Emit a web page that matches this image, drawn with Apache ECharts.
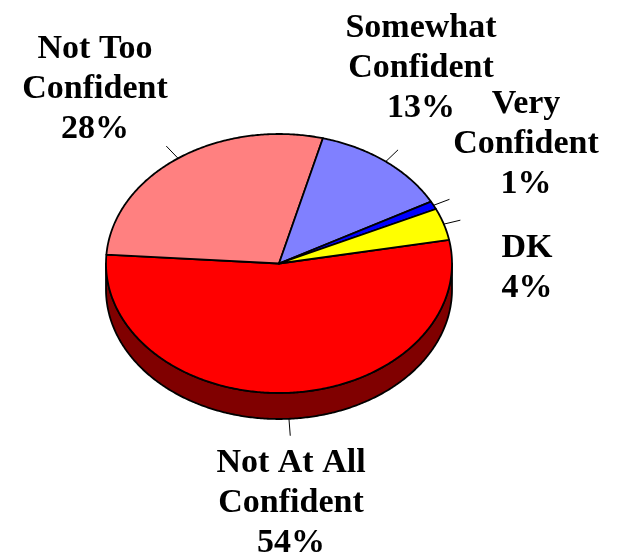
<!DOCTYPE html>
<html>
<head>
<meta charset="utf-8">
<script src="https://cdn.jsdelivr.net/npm/echarts@6/dist/echarts.min.js"></script>
<style>html,body{margin:0;padding:0;background:#fff;}#chart{width:618px;height:557px;}</style>
</head>
<body>
<div id="chart"></div>
<script>
// ---- data ----
const categories = ["Not At All Confident", "Not Too Confident", "Somewhat Confident", "Very Confident", "DK"];
const labelLines = [["Not At All", "Confident"], ["Not Too", "Confident"], ["Somewhat", "Confident"], ["Very", "Confident"], ["DK"]];
const values = [54, 28, 13, 1, 4];

// ---- styles ----
const topColors = ["#FF0000", "#FF8080", "#8080FF", "#0000FF", "#FFFF00"];
const sideColors = ["#800000", "#804040", "#404080", "#000080", "#808000"];
const labelPos = [[291, 443], [95, 29], [421, 8], [526, 84], [527, 228]];

// ---- layout ----
const CX = 279, CY = 263.5, RX = 173, RY = 129.5, DEPTH = 26;
const START = -10.5 * Math.PI / 180;
const FONT = '"Liberation Serif", "Times New Roman", serif';

function pt(a, dy) { return [CX + RX * Math.cos(a), CY + RY * Math.sin(a) + (dy || 0)]; }
function arc(a0, a1, dy) {
  const n = Math.max(2, Math.ceil(Math.abs(a1 - a0) / 0.01));
  const pts = [];
  for (let k = 0; k <= n; k++) pts.push(pt(a0 + (a1 - a0) * k / n, dy));
  return pts;
}

const total = values.reduce((a, b) => a + b, 0);

function renderItem(params, api) {
  const i = params.dataIndex;
  const v = api.value(0);
  let before = 0;
  for (let k = 0; k < i; k++) before += values[k];
  const a0 = START + before / total * 2 * Math.PI;
  const a1 = a0 + v / total * 2 * Math.PI;
  const children = [];
  // visible side (front half)
  [-2 * Math.PI, 0, 2 * Math.PI].forEach(off => {
    const lo = Math.max(a0, off), hi = Math.min(a1, off + Math.PI);
    if (hi > lo) {
      const pts = arc(lo, hi, 0).concat(arc(hi, lo, DEPTH));
      children.push({ type: 'polygon', z2: 1, shape: { points: pts },
        style: { fill: sideColors[i], stroke: '#000', lineWidth: 1.8, lineJoin: 'round' } });
    }
  });
  // top face
  children.push({ type: 'polygon', z2: 10, shape: { points: [[CX, CY]].concat(arc(a0, a1, 0)) },
    style: { fill: topColors[i], stroke: '#000', lineWidth: 1.8, lineJoin: 'round' } });
  // leader line
  const mid = (a0 + a1) / 2;
  const front = Math.sin(mid) > 0 ? DEPTH : 0;
  const p = pt(mid, front);
  let dx = RX * Math.cos(mid), dy = RY * Math.sin(mid);
  const L = Math.hypot(dx, dy); dx /= L; dy /= L;
  children.push({ type: 'line', z2: 5, shape: { x1: p[0], y1: p[1], x2: p[0] + dx * 17, y2: p[1] + dy * 17 },
    style: { stroke: '#000', lineWidth: 1 } });
  // label
  children.push({ type: 'text', z2: 20, x: labelPos[i][0], y: labelPos[i][1],
    style: { text: labelLines[i].concat([v + '%']).join('\n'), fill: '#000',
      fontSize: 34, fontWeight: 'bold', fontFamily: FONT, lineHeight: 40,
      align: 'center', verticalAlign: 'top' } });
  return { type: 'group', children };
}

const chart = echarts.init(document.getElementById('chart'));
chart.setOption({
  animation: false,
  backgroundColor: '#fff',
  series: [{
    type: 'custom',
    coordinateSystem: 'none',
    silent: true,
    renderItem,
    data: values.map((v, i) => ({ name: categories[i], value: [v] }))
  }]
});
</script>
</body>
</html>
